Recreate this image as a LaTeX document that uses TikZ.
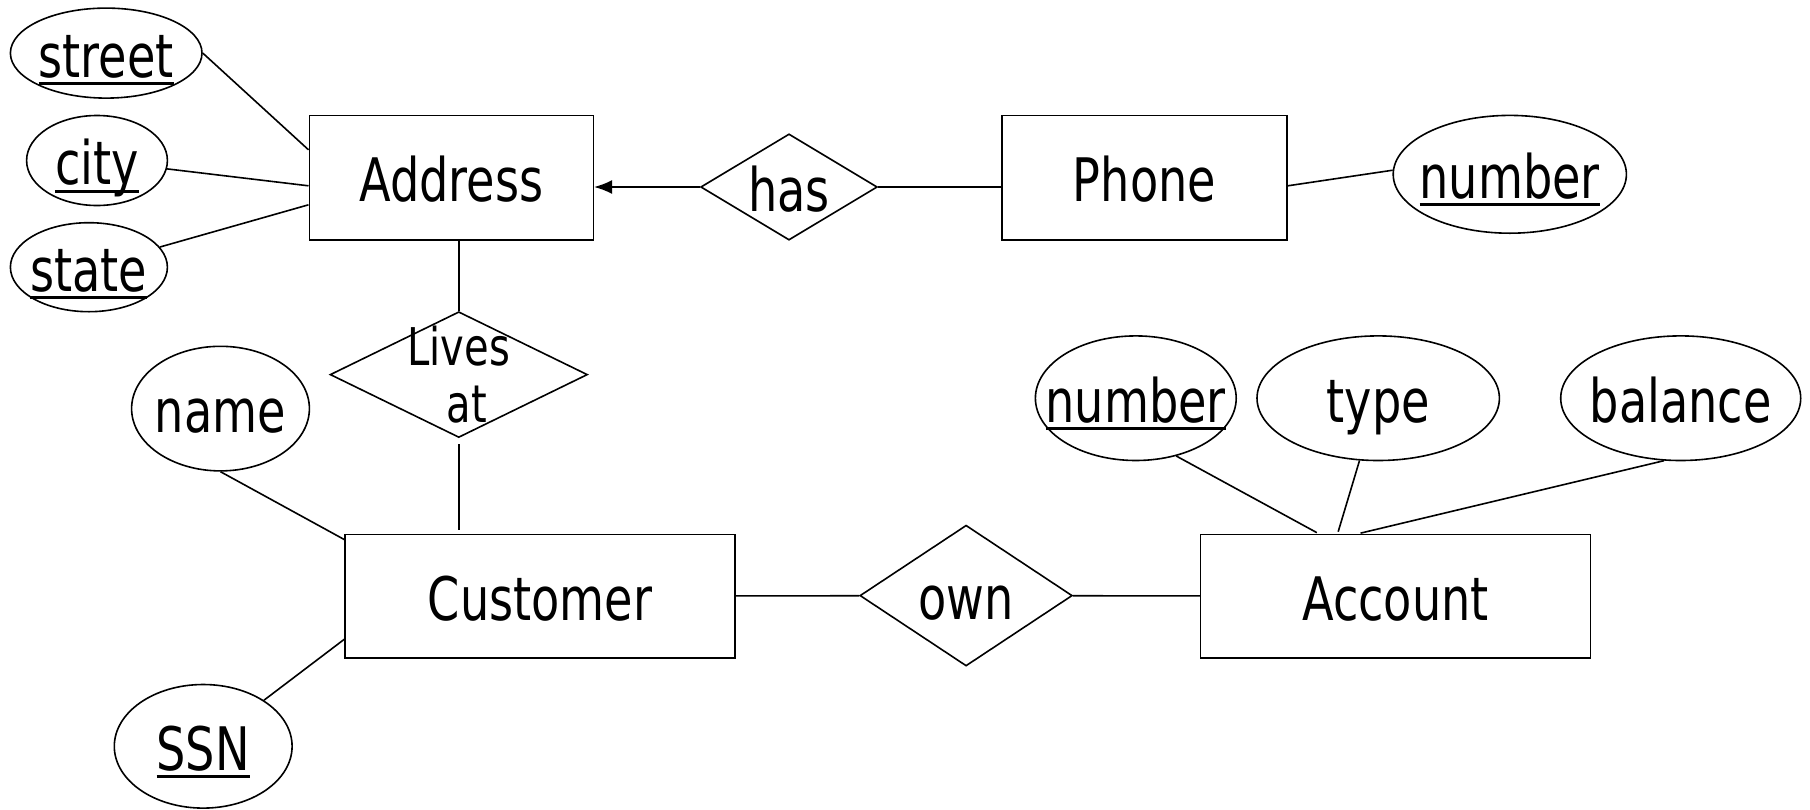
\documentclass[tikz,border=0pt]{standalone}
\usepackage{fontspec}
\setmainfont{DejaVu Sans}[FakeStretch=0.77]
\usetikzlibrary{shapes.geometric,arrows.meta}
\newcommand{\keyul}[1]{\setbox0=\hbox{#1}\rlap{\rule[-4pt]{\wd0}{1.5pt}}\box0}
\newcommand{\lbl}[1]{\makebox[0pt]{#1}}
\begin{document}
\begin{tikzpicture}[x=0.5pt, y=-0.5pt, line width=0.8pt,
  font=\fontsize{30}{36}\selectfont,
  every node/.style={text height=27pt, text depth=3pt},
  entity/.style={rectangle, draw, inner sep=0pt, minimum width=142pt, minimum height=62.3pt},
  attr/.style={ellipse, draw, inner sep=0pt, minimum height=62.3pt},
  rel/.style={diamond, draw, inner sep=0pt, aspect=1.6}]
  \useasboundingbox (0,0) rectangle (1810,809);
  % Nodes
  \node (addr) [entity] at (451.3,177.8) {Address};
  \node (phone) [entity, minimum width=142.5pt] at (1144.5,177.8) {Phone};
  \node (cust) [entity, minimum width=195pt, minimum height=61.8pt] at (540.2,596.2) {Customer};
  \node (acc) [entity, minimum width=195pt, minimum height=61.8pt] at (1395.6,596.2) {Account};
  \node (has) [rel, minimum width=88.3pt, minimum height=53.1pt] at (789,187) {\lbl{has}};
  \node (lives) [rel, minimum width=128.7pt, minimum height=62.9pt] at (458.8,374.6) {};
  \node (livestext) [align=center, text height=, text depth=, font=\fontsize{26}{28.3}\selectfont] at (lives) {Lives\\\hspace{8pt}at};
  \node (own) [rel, minimum width=106.2pt, minimum height=70.4pt] at (966.1,595.6) {\lbl{own}};
  % Attributes
  \node (street) [attr, minimum width=95.8pt, minimum height=45pt] at (106.2,53.1) {\lbl{\keyul{street}}};
  \node (city) [attr, minimum width=70.4pt, minimum height=45pt] at (97,160.5) {\lbl{\keyul{city}}};
  \node (state) [attr, minimum width=78.5pt, minimum height=44.5pt] at (88.9,267.2) {\lbl{\keyul{state}}};
  \node (pnum) [attr, minimum width=116.6pt, minimum height=58.9pt] at (1509.8,174.3) {\lbl{\keyul{number}}};
  \node (name) [attr, minimum width=88.9pt] at (220.5,408.6) {\lbl{name}};
  \node (ssn) [attr, minimum width=88.9pt, minimum height=61.8pt] at (203.2,746.3) {\lbl{\keyul{SSN}}};
  \node (anum) [attr, minimum width=100.4pt] at (1135.8,398.2) {\lbl{\keyul{number}}};
  \node (type) [attr, minimum width=121.2pt] at (1378.2,398.2) {\lbl{type}};
  \node (balance) [attr, minimum width=120pt] at (1680.7,398.2) {\lbl{balance}};
  % Lines
  \draw (street.east) -- ([yshift=14pt]addr.west);
  \draw (city) -- ([yshift=-4pt]addr.west);
  \draw (state) -- ([yshift=-13.5pt]addr.west);
  \draw[-{Latex[length=9pt,width=7pt]}] (has.west) -- (has.west -| addr.east);
  \draw (has.east) -- (has.east -| phone.west);
  \draw ([yshift=-4pt]phone.east) -- (pnum.178);
  \draw (lives.north |- addr.south) -- (lives.north);
  \draw[shorten <=3pt, shorten >=2pt] (lives.south) -- (lives.south |- cust.north);
  \draw (name.south) -- ([yshift=-3pt]cust.north west);
  \draw (ssn) -- ([yshift=-21.5pt]cust.west);
  \draw (cust) -- (own);
  \draw (own) -- (acc);
  \draw[shorten >=1pt] (anum.-55) -- ([xshift=-38.5pt]acc.north);
  \draw[shorten >=1pt] (type) -- ([xshift=-29pt]acc.north);
  \draw[shorten >=1pt] (balance.-105) -- ([xshift=-18.5pt]acc.north);
\end{tikzpicture}
\end{document}
